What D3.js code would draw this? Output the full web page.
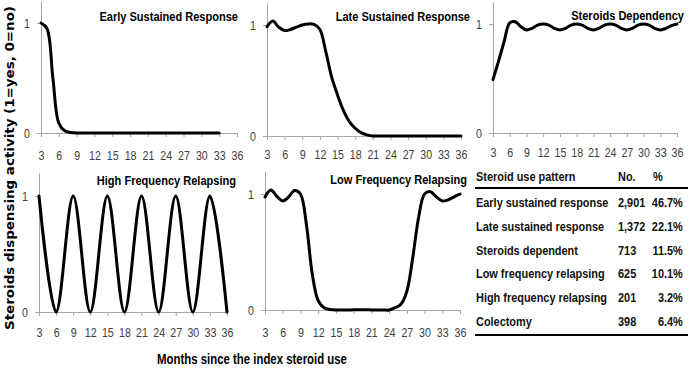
<!DOCTYPE html>
<html><head><meta charset="utf-8">
<script src="https://cdn.jsdelivr.net/npm/d3@7"></script>
<style>
body{margin:0;background:#fff;}
svg{display:block;}
</style></head>
<body>
<svg id="chart" width="690" height="368"></svg>
<script>
// ---- data ----
const tickMonths = [3,6,9,12,15,18,21,24,27,30,33,36];
const yTickValues = [0,1];

const earlyMonths = d3.range(3,34);
const earlyValues = [1.0,0.95,0.5,0.09,0.02,0.005,0,0,0,0,0,0,0,0,0,0,0,0,0,0,0,0,0,0,0,0,0,0,0,0,0];

const lateMonths = d3.range(3,37);
const lateValues = [0.985,1.035,0.98,0.95,0.96,0.98,1.0,1.01,1.005,0.96,0.76,0.53,0.37,0.23,0.13,0.07,0.03,0.01,0,0,0,0,0,0,0,0,0,0,0,0,0,0,0,0];

const depMonths = d3.range(3,37);
const depValues = [0.49,0.66,0.84,1.01,1.02,0.975,0.945,0.96,0.99,1.0,0.99,0.96,0.945,0.96,0.99,1.0,0.99,0.96,0.945,0.96,0.99,1.0,0.99,0.96,0.945,0.96,0.99,1.0,0.99,0.96,0.945,0.96,0.985,1.0];

const hfMonths = [3,6,9,12,15,18,21,24,27,30,33,36];
const hfValues = [1,0,1,0,1,0,1,0,1,0,1,0];

const lfMonths = d3.range(3,37);
const lfValues = [0.975,1.035,0.98,0.94,0.975,1.03,1.0,0.74,0.31,0.08,0.02,0.005,0,0,0,0.002,0.002,0.002,0.001,0,0,0,0.02,0.05,0.16,0.45,0.8,1.0,1.02,0.975,0.94,0.95,0.975,1.0];

const panelTitles = ["Early Sustained Response","Late Sustained Response","Steroids Dependency","High Frequency Relapsing","Low Frequency Relapsing"];

const tableHeader = ["Steroid use pattern","No.","%"];
const tablePatterns = ["Early sustained response","Late sustained response","Steroids dependent","Low frequency relapsing","High frequency relapsing","Colectomy"];
const tableCounts = ["2,901","1,372","713","625","201","398"];
const tablePercents = ["46.7%","22.1%","11.5%","10.1%","3.2%","6.4%"];

const yAxisTitle = "Steroids dispensing activity (1=yes, 0=no)";
const xAxisTitle = "Months since the index steroid use";

// ---- layout ----
const svg = d3.select("#chart");
svg.append("rect").attr("width",690).attr("height",368).attr("fill","#fff");
const sans = "'Liberation Sans',Arial,sans-serif";
const axisColor = "#a6a6a6";
const textColor = "#404040";

// text drawn in a horizontally squeezed frame (the reference uses a narrow face)
function narrowText(parent, x, y, str, opts){
  const g = parent.append("g").attr("transform",`translate(${x},${y}) scale(${opts.sx},1)`);
  return g.append("text").attr("x",0).attr("y",0)
    .attr("text-anchor",opts.anchor||"start")
    .style("font-family",sans).style("font-weight",opts.weight||"bold")
    .style("font-size",opts.size+"px").attr("fill",opts.fill||"#000").text(str);
}

const tickFont = 13.5;
const panels = [
  {months:earlyMonths, values:earlyValues, x0:41, x1:237, y0:133, y1:23, lab:27, title:panelTitles[0], tx:238, ty:21},
  {months:lateMonths, values:lateValues, x0:267, x1:461, y0:136, y1:25, lab:23, title:panelTitles[1], tx:470, ty:21},
  {months:depMonths, values:depValues, x0:493, x1:677, y0:133, y1:24, lab:24, title:panelTitles[2], tx:684, ty:20},
  {months:hfMonths, values:hfValues, x0:39, x1:227, y0:312, y1:196, lab:25, title:panelTitles[3], tx:236, ty:185},
  {months:lfMonths, values:lfValues, x0:265, x1:460, y0:310, y1:194, lab:27, title:panelTitles[4], tx:467, ty:184}
];

panels.forEach(p => {
  const x = d3.scaleLinear().domain([3,36]).range([p.x0,p.x1]);
  const unit = p.y0 - p.y1;
  const y = d3.scaleLinear().domain([0,1.2]).range([p.y0, p.y0 - 1.2*unit]);
  const g = svg.append("g");

  const xa = g.append("g").attr("transform",`translate(0,${p.y0})`)
    .call(d3.axisBottom(x).tickValues(tickMonths).tickSize(4).tickSizeOuter(0).tickPadding(p.lab - 4 - 0.71*tickFont));
  const ya = g.append("g").attr("transform",`translate(${p.x0},0)`)
    .call(d3.axisLeft(y).tickValues(yTickValues).tickSize(4).tickSizeOuter(0).tickPadding(10).tickFormat(d3.format("d")));
  [xa,ya].forEach(a=>{
    a.select(".domain").attr("stroke",axisColor).attr("stroke-width",1);
    a.selectAll(".tick line").attr("stroke",axisColor);
    a.selectAll(".tick text").attr("fill",textColor).style("font-family",sans).style("font-size",tickFont+"px")
      .attr("transform","scale(0.79,1)");
  });

  const line = d3.line().x((d,i)=>x(p.months[i])).y(d=>y(d)).curve(d3.curveCatmullRom.alpha(0.5));
  g.append("path").datum(p.values).attr("d",line)
    .attr("fill","none").attr("stroke","#000").attr("stroke-width",3).attr("stroke-linejoin","round").attr("stroke-linecap","round");

  narrowText(g, p.tx, p.ty, p.title, {sx:0.85, size:13, anchor:"end"});
});

// ---- table ----
const tg = svg.append("g");
const tOpt = {sx:0.81, size:13.5, fill:"#111"};
const colX = [476, 618, 653];
const decX = 664;
narrowText(tg, colX[0], 181, tableHeader[0], tOpt);
narrowText(tg, colX[1], 181, tableHeader[1], tOpt);
narrowText(tg, colX[2], 181, tableHeader[2], tOpt);
tg.append("line").attr("x1",475).attr("x2",688).attr("y1",188).attr("y2",188).attr("stroke","#000").attr("stroke-width",2);
const rowY = d3.scalePoint().domain(d3.range(tablePatterns.length)).range([207,326]);
tablePatterns.forEach((t,i)=>{
  const yy = rowY(i);
  narrowText(tg, colX[0], yy, t, tOpt);
  narrowText(tg, colX[1], yy, tableCounts[i], tOpt);
  const parts = tablePercents[i].split(".");
  narrowText(tg, decX, yy, parts[0], Object.assign({anchor:"end"}, tOpt));
  narrowText(tg, decX, yy, "."+parts[1], tOpt);
});
tg.append("line").attr("x1",475).attr("x2",688).attr("y1",335).attr("y2",335).attr("stroke","#000").attr("stroke-width",2);

// ---- axis titles ----
svg.append("text").attr("transform","translate(14,168) rotate(-90)").attr("text-anchor","middle")
  .style("font-family","'DejaVu Sans',Verdana,sans-serif").style("font-weight","bold").style("font-size","13px")
  .attr("fill","#000").attr("textLength",324).attr("lengthAdjust","spacingAndGlyphs").text(yAxisTitle);
narrowText(svg, 252, 364, xAxisTitle, {sx:0.76, size:15, anchor:"middle"});
</script>
</body></html>
